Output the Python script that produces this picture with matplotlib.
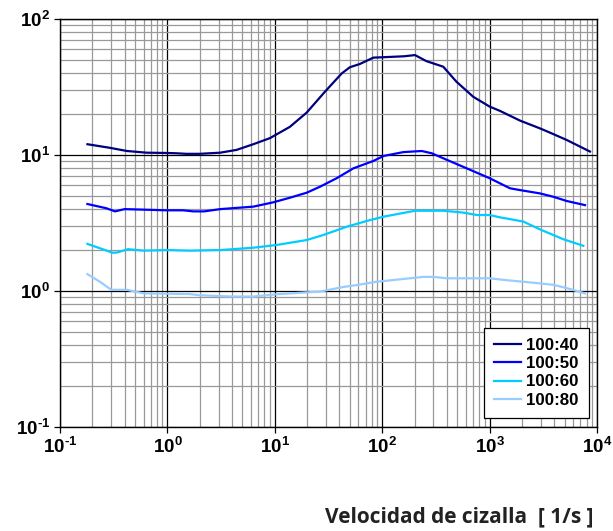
import numpy as np
import matplotlib
matplotlib.use("Agg")
import matplotlib.pyplot as plt
from matplotlib.ticker import FixedLocator, FixedFormatter, LogLocator, NullFormatter

plt.rcParams['mathtext.fontset'] = 'custom'
plt.rcParams['mathtext.rm'] = 'Liberation Sans:bold'
plt.rcParams['mathtext.bf'] = 'Liberation Sans:bold'
plt.rcParams['mathtext.it'] = 'Liberation Sans:bold'

# shear rate [1/s] and viscosity for each mix ratio
x40 = [0.18, 0.29, 0.42, 0.64, 0.98, 1.2, 1.5, 2.0, 3.1, 4.4, 6.3, 9.0, 13.8, 19.8,
       29.3, 42, 50, 62, 82.7, 110, 160, 202, 258, 370, 491, 704, 1000, 1250, 1920, 2940, 3650, 5220, 8600]
y40 = [12.0, 11.3, 10.7, 10.4, 10.35, 10.3, 10.2, 10.2, 10.4, 10.9, 12.0, 13.3, 16.1, 20.5,
       29.2, 39.8, 44.2, 46.7, 52, 52.5, 53.2, 54.3, 49, 44.6, 34.6, 26.8, 22.7, 21.1, 17.9, 15.7, 14.6, 12.9, 10.6]

x50 = [0.18, 0.27, 0.325, 0.40, 0.98, 1.4, 1.74, 2.2, 3.1, 6.3, 9.7, 13.8, 19.8, 26.4,
       37.7, 53.9, 82.7, 103, 157, 233, 289, 370, 612, 1000, 1550, 1920, 2940, 3920, 5220, 7730]
y50 = [4.36, 4.06, 3.85, 4.0, 3.92, 3.92, 3.85, 3.85, 4.0, 4.17, 4.49, 4.85, 5.28, 5.85,
       6.75, 7.98, 9.04, 9.84, 10.5, 10.7, 10.3, 9.46, 7.98, 6.75, 5.69, 5.52, 5.22, 4.93, 4.59, 4.28]

x60 = [0.18, 0.31, 0.34, 0.43, 0.6, 0.98, 1.62, 3.1, 6.3, 10.4, 19.8, 28.3, 46.8, 71.6,
       103, 202, 370, 570, 760, 1000, 1250, 2060, 2940, 4870, 7460]
y60 = [2.22, 1.91, 1.92, 2.03, 1.98, 2.0, 1.98, 2.0, 2.08, 2.18, 2.37, 2.58, 2.97, 3.27,
       3.52, 3.89, 3.89, 3.77, 3.62, 3.62, 3.48, 3.24, 2.84, 2.4, 2.15]

x80 = [0.18, 0.235, 0.30, 0.42, 0.6, 0.98, 1.6, 2.0, 4.1, 6.3, 10.4, 19.8, 26.4, 43.4,
       60, 88.7, 122, 241, 300, 400, 1000, 1450, 2570, 3920, 5220, 7730]
y80 = [1.33, 1.17, 1.02, 1.02, 0.96, 0.955, 0.95, 0.93, 0.91, 0.91, 0.946, 0.977, 0.99, 1.07,
       1.11, 1.17, 1.2, 1.27, 1.27, 1.24, 1.24, 1.2, 1.15, 1.11, 1.05, 0.96]

labels = ['100:40', '100:50', '100:60', '100:80']
colors = ['#000080', '#0000FF', '#00CCFF', '#99CCFF']

xticks = [0.1, 1, 10, 100, 1000, 10000]
xticklabels = [r'$10^{\text{-}1}$', r'$10^{0}$', r'$10^{1}$', r'$10^{2}$', r'$10^{3}$', r'$10^{4}$']
yticks = [0.1, 1, 10, 100]
yticklabels = [r'$10^{\text{-}1}$', r'$10^{0}$', r'$10^{1}$', r'$10^{2}$']

fig = plt.figure(figsize=(6.13, 5.31), dpi=100)
ax = fig.add_axes([0.0979, 0.1959, 0.876, 0.7683])

for xs, ys, lab, c in zip([x40, x50, x60, x80], [y40, y50, y60, y80], labels, colors):
    ax.plot(xs, ys, color=c, lw=1.6, label=lab, zorder=3)

ax.set_xscale('log')
ax.set_yscale('log')
ax.set_xlim(0.1, 10000)
ax.set_ylim(0.1, 100)

ax.xaxis.set_major_locator(FixedLocator(xticks))
ax.xaxis.set_major_formatter(FixedFormatter(xticklabels))
ax.yaxis.set_major_locator(FixedLocator(yticks))
ax.yaxis.set_major_formatter(FixedFormatter(yticklabels))
ax.xaxis.set_minor_locator(LogLocator(base=10, subs=np.arange(2, 10), numticks=20))
ax.yaxis.set_minor_locator(LogLocator(base=10, subs=np.arange(2, 10), numticks=20))
ax.xaxis.set_minor_formatter(NullFormatter())
ax.yaxis.set_minor_formatter(NullFormatter())

ax.grid(which='minor', color='#999999', lw=0.9, zorder=1)
ax.grid(which='major', color='black', lw=0.9, zorder=2)
ax.set_axisbelow(True)

ax.tick_params(which='major', length=4, width=0.9, direction='out', labelsize=13.5, pad=3)
ax.tick_params(which='minor', length=0)
for s in ax.spines.values():
    s.set_linewidth(1.0)
    s.set_color('black')

leg = ax.legend(loc='lower right', bbox_to_anchor=(0.985, 0.022), borderaxespad=0,
                fancybox=False, edgecolor='black', framealpha=1, handlelength=1.6,
                handletextpad=0.3, labelspacing=0.2, borderpad=0.6,
                prop={'family': 'Liberation Sans', 'weight': 'bold', 'size': 12.2})
leg.get_frame().set_linewidth(0.9)

fig.text(0.968, 0.006, 'Velocidad de cizalla  [ 1/s ]', ha='right', va='bottom',
         family='Open Sans', weight='bold', fontsize=15, color='#222222')

fig.savefig('out.png', dpi=100)
